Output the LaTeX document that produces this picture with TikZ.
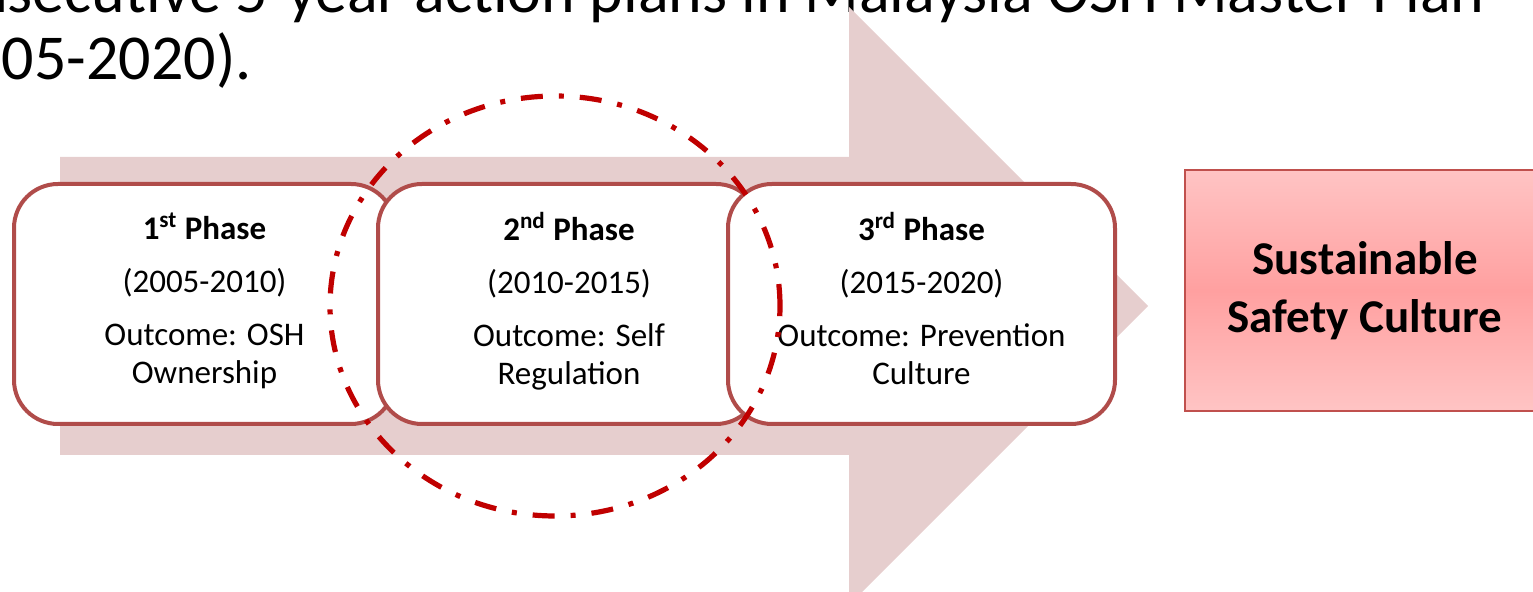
\documentclass[tikz,border=0pt]{standalone}
\usepackage{fontspec}
\setmainfont{Carlito}
\definecolor{arrowpink}{RGB}{230,206,206}
\definecolor{boxred}{RGB}{176,76,74}
\definecolor{ringred}{RGB}{192,0,0}
\definecolor{goaledge}{RGB}{192,80,77}
\definecolor{goallight}{RGB}{255,196,196}
\definecolor{goaldark}{RGB}{255,160,160}
\tikzset{
	phasebox/.style = {draw = boxred, line width = 2pt, fill = white, rounded corners = 22pt, minimum height = 120pt, align = center, inner sep = 0pt, font = \fontsize{16.5}{19}\selectfont},
	goalbox/.style = {draw = goaledge, line width = 1pt, top color = goallight, bottom color = goallight, middle color = goaldark, minimum width = 180pt, minimum height = 120.5pt, align = center, font = \bfseries\fontsize{23.5}{29}\selectfont},
	ringline/.style = {draw = ringred, line width = 2.6pt, dash pattern = on 11pt off 8pt on 2.5pt off 8pt},
	slidetext/.style = {inner sep = 0pt, font = \fontsize{32}{33}\selectfont}
}
\begin{document}
\begin{tikzpicture}[x = 0.5pt, y = -0.5pt]
						\useasboundingbox (0, 0) rectangle (1533, 592);
						\clip (0, 0) rectangle (1533, 592);

						\node [slidetext, anchor = base east] (L1) at (1485, 13) {consecutive 5-year action plans in Malaysia OSH Master Plan};
						\node [slidetext, anchor = base east] (L2) at (252, 80) {(2005-2020).};

						\coordinate (a1) at (60, 157);
						\coordinate (a2) at (849, 157);
						\coordinate (a3) at (849, 7);
						\coordinate (a4) at (1148, 306);
						\coordinate (a5) at (849, 605);
						\coordinate (a6) at (849, 455);
						\coordinate (a7) at (60, 455);

						\fill [arrowpink] (a1) -- (a2) -- (a3) -- (a4) -- (a5) -- (a6) -- (a7) -- cycle;

						\node [phasebox, minimum width = 190.5pt] (P1) at (204.5, 304) {\strut\textbf{1\textsuperscript{st} Phase}\\[7.5pt](2005-2010)\\[7.5pt]Outcome: OSH\\Ownership\strut};
						\node [phasebox, minimum width = 191pt] (P2) at (569, 304) {\strut\textbf{2\textsuperscript{nd} Phase}\\[7.5pt](2010-2015)\\[7.5pt]Outcome: Self\\Regulation\strut};
						\node [phasebox, minimum width = 193.5pt] (P3) at (921.5, 304) {\strut\textbf{3\textsuperscript{rd} Phase}\\[7.5pt](2015-2020)\\[7.5pt]Outcome: Prevention\\Culture\strut};

						\node [goalbox] (G) at (1365, 290.5) {Sustainable\\Safety Culture};

						\draw [ringline] (555, 306) ellipse [x radius = 112.5pt, y radius = 105pt];
					\end{tikzpicture}
\end{document}
